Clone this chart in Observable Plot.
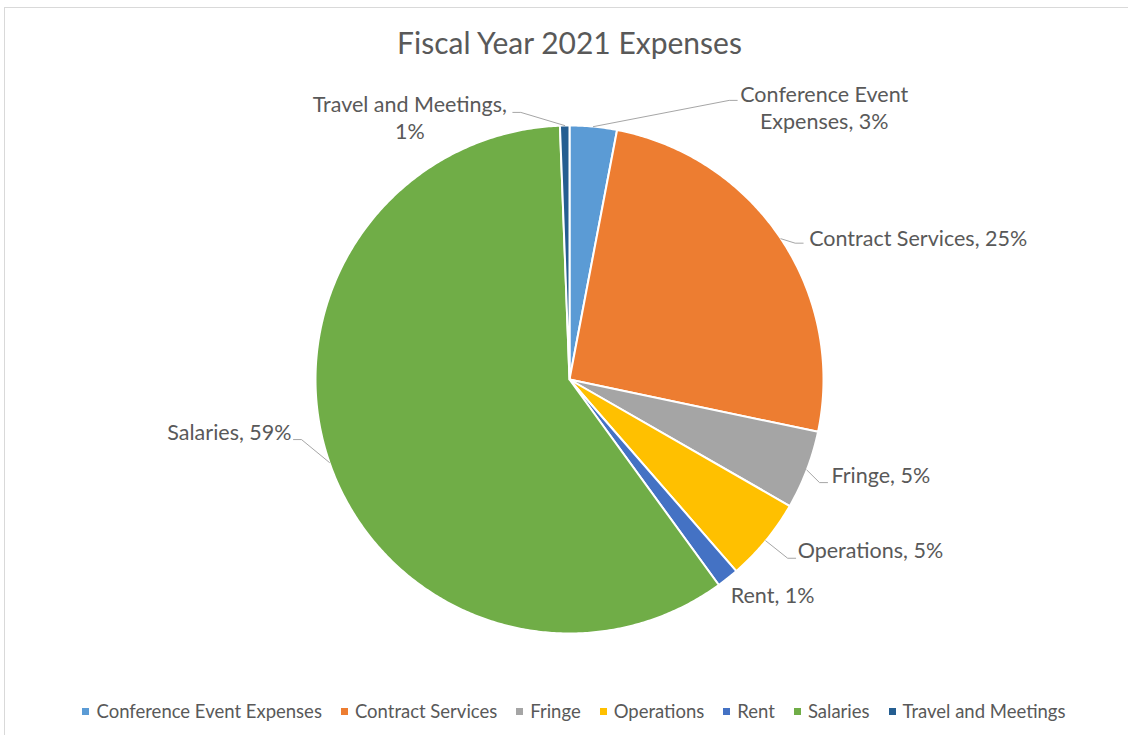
<!DOCTYPE html>
<html><head><meta charset="utf-8">
<script src="https://cdn.jsdelivr.net/npm/d3@7"></script>
<script src="https://cdn.jsdelivr.net/npm/@observablehq/plot@0.6"></script>
<style>
html,body{margin:0;padding:0;background:#fff;width:1128px;height:735px;overflow:hidden;font-family:Lato,"Open Sans",sans-serif;color:#595959;}
#frame{position:absolute;left:4px;top:7px;width:1160px;height:760px;border:1px solid #d9d9d9;box-sizing:border-box;}
#title{position:absolute;left:0;top:23px;width:1139px;text-align:center;font-size:30px;line-height:38px;color:#595959;}
#chart{position:absolute;left:0;top:70px;}
#legend{position:absolute;left:0;top:700px;width:1148px;display:flex;justify-content:center;align-items:center;font-size:18.5px;line-height:22px;color:#595959;}
.li{display:flex;align-items:center;margin:0 9.5px;}
.sw{width:7px;height:7px;margin-right:7px;}
</style></head>
<body>
<div id="frame"></div>
<div id="title">Fiscal Year 2021 Expenses</div>
<div id="chart"></div>
<div id="legend"></div>
<script>
// ---- data ----
const categories = ["Conference Event Expenses","Contract Services","Fringe","Operations","Rent","Salaries","Travel and Meetings"];
const shares = [3.0, 25.3, 5.0, 5.3, 1.4, 59.4, 0.6];
const colors = ["#5B9BD5","#ED7D31","#A5A5A5","#FFC000","#4472C4","#70AD47","#255E91"];

// ---- label layout (Excel-style placement) ----
const labelShift = [25.6, 3.4, 0.9, -1.1, 1.9, 6.8, -10.9];      // deg from slice middle
const labelRadius = [1.282, 1.065, 1.094, 1.135, 1.064, 1.112, 1.075];
const labelAnchor = ["middle","start","start","start","start","end","middle"];
const labelDx = [87, 6, 4, 2, 0, -2, -103];
const labelDy = [6, -6, -8, -9, -2, -8, 4];
const labelWrap = [2, 0, 0, 0, 0, 0, 3];
const labelLeader = [true, true, true, true, false, true, true];

const R = 254, cx = 569, cy = 309;
const deg = Math.PI / 180;
let cum = 0;
const slices = categories.map((c, i) => {
  const a0 = cum / 100 * 2 * Math.PI; cum += shares[i];
  const a1 = cum / 100 * 2 * Math.PI;
  return {c, i, a0, a1, mid: (a0 + a1) / 2, share: shares[i]};
});
const slicePts = slices.flatMap(s => {
  const pts = [{c: s.c, x: 0, y: 0}];
  const n = Math.max(2, Math.ceil((s.a1 - s.a0) / (Math.PI / 360)));
  for (let j = 0; j <= n; j++) {
    const a = s.a0 + (s.a1 - s.a0) * j / n;
    pts.push({c: s.c, x: Math.sin(a), y: Math.cos(a)});
  }
  pts.push({c: s.c, x: 0, y: 0});
  return pts;
});
const hook = 8 / R;
const labels = slices.map(s => {
  const la = s.mid + labelShift[s.i] * deg, k = labelRadius[s.i];
  const ex = Math.sin(la) * k, ey = Math.cos(la) * k;
  const side = ex >= 0 ? 1 : -1;
  let text = s.c + ", " + Math.round(s.share) + "%";
  if (labelWrap[s.i]) {
    const w = text.split(" ");
    text = w.slice(0, labelWrap[s.i]).join(" ") + "\n" + w.slice(labelWrap[s.i]).join(" ");
  }
  return {c: s.c, i: s.i, text, ex, ey, side,
    sx: Math.sin(s.mid), sy: Math.cos(s.mid)};
});
const leaderPts = labels.filter(l => labelLeader[l.i]).flatMap(l => [
  {c: l.c, x: l.sx, y: l.sy},
  {c: l.c, x: l.ex - l.side * hook, y: l.ey},
  {c: l.c, x: l.ex, y: l.ey}
]);

const chart = Plot.plot({
  width: 1128, height: 610, margin: 0,
  style: {background: "transparent", overflow: "visible"},
  x: {domain: [-1, 1], range: [cx - R, cx + R], axis: null},
  y: {domain: [-1, 1], range: [cy + R, cy - R], axis: null},
  color: {domain: categories, range: colors},
  marks: [
    Plot.line(slicePts, {x: "x", y: "y", z: "c", fill: "c", stroke: "white", strokeWidth: 2, strokeLinejoin: "miter", strokeMiterlimit: 4}),
    Plot.line(leaderPts, {x: "x", y: "y", z: "c", stroke: "#a6a6a6", strokeWidth: 1, strokeLinejoin: "miter"}),
    ...labels.map(l => Plot.text([l], {
      x: "ex", y: "ey", text: "text",
      textAnchor: labelAnchor[l.i], dx: labelDx[l.i], dy: labelDy[l.i],
      lineAnchor: "middle", lineHeight: 1.26,
      fontSize: 21.5, fontFamily: "Lato, 'Open Sans', sans-serif", fill: "#595959"
    }))
  ]
});
document.getElementById("chart").appendChild(chart);

const legend = document.getElementById("legend");
categories.forEach((c, i) => {
  const item = document.createElement("div"); item.className = "li";
  const sw = document.createElement("span"); sw.className = "sw"; sw.style.background = colors[i];
  const t = document.createElement("span"); t.textContent = c;
  item.appendChild(sw); item.appendChild(t); legend.appendChild(item);
});
</script>
</body></html>
